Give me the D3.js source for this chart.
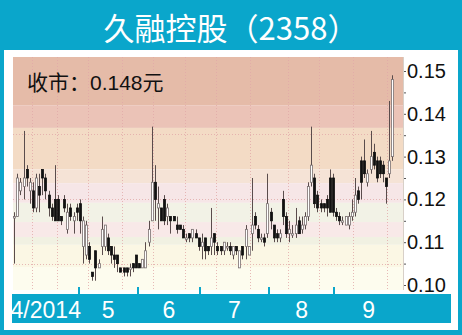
<!DOCTYPE html>
<html>
<head>
<meta charset="utf-8">
<script src="https://cdnjs.cloudflare.com/ajax/libs/d3/7.8.5/d3.min.js"></script>
<style>
  body { margin: 0; background: #0aa6cb; }
  svg { display: block; }
</style>
</head>
<body>
<svg width="462" height="335"></svg>
<script>
// daily candles, Apr - Sep 2014
var monthLabels = ["4/2014", "5", "6", "7", "8", "9"];
var monthCounts = [21, 19, 20, 22, 21, 19];

var opens = [
  .116,.116,.122,.123,.127,.122,.122,.118,.123,.127,.125,.121,.118,.120,.120,.116,.120,.113,.118,.115,.118,
  .119,.109,.107,.109,.103,.108,.104,.109,.109,.111,.109,.107,.107,.104,.104,.104,.104,.105,.107,
  .105,.104,.104,.110,.115,.124,.118,.118,.120,.116,.116,.116,.114,.114,.113,.111,.112,.111,.112,.111,
  .109,.111,.109,.109,.112,.109,.109,.108,.109,.109,.107,.109,.104,.109,.109,.107,.112,.116,.113,.111,.111,.112,
  .117,.114,.112,.111,.120,.116,.112,.112,.112,.115,.113,.114,.116,.124,.125,.121,.119,.119,.120,.125,.125,
  .117,.116,.115,.114,.114,.116,.117,.122,.129,.129,.124,.127,.131,.129,.129,.128,.125,.126,.130
];
var highs = [
  .117,.126,.125,.136,.128,.125,.124,.126,.126,.127,.126,.122,.119,.128,.121,.116,.121,.119,.119,.117,.119,
  .120,.116,.115,.110,.103,.108,.106,.116,.114,.112,.109,.109,.107,.104,.104,.104,.105,.105,.107,
  .105,.106,.110,.115,.137,.128,.123,.118,.121,.119,.116,.116,.116,.114,.114,.112,.112,.113,.113,.111,
  .112,.111,.109,.118,.112,.110,.109,.110,.110,.110,.109,.109,.108,.109,.114,.109,.125,.117,.114,.112,.112,.126,
  .118,.114,.113,.113,.122,.117,.115,.114,.118,.116,.116,.117,.124,.137,.126,.122,.120,.119,.121,.127,.126,
  .118,.117,.116,.116,.117,.120,.125,.123,.130,.134,.127,.136,.133,.130,.130,.129,.125,.143,.149
];
var lows = [
  .105,.116,.121,.120,.123,.119,.117,.117,.117,.121,.120,.116,.115,.115,.115,.114,.117,.112,.115,.112,.115,
  .112,.105,.106,.105,.101,.101,.104,.107,.108,.107,.105,.104,.103,.103,.102,.102,.102,.103,.104,
  .104,.104,.104,.109,.115,.115,.113,.115,.114,.114,.112,.115,.112,.113,.111,.110,.110,.110,.111,.108,
  .106,.106,.107,.107,.107,.107,.107,.107,.108,.107,.106,.107,.104,.106,.106,.107,.108,.113,.110,.110,.109,.111,
  .113,.110,.110,.110,.114,.111,.110,.111,.111,.112,.112,.113,.115,.123,.118,.117,.117,.117,.116,.117,.116,
  .115,.114,.114,.114,.113,.115,.116,.119,.120,.125,.123,.126,.127,.124,.125,.124,.119,.125,.129
];
var closes = [
  .116,.125,.124,.125,.125,.124,.118,.125,.121,.125,.122,.118,.116,.115,.115,.115,.118,.117,.116,.116,.117,
  .115,.115,.114,.106,.102,.104,.105,.113,.114,.108,.107,.106,.105,.103,.103,.103,.104,.104,.104,
  .104,.106,.108,.113,.124,.120,.119,.115,.115,.118,.115,.115,.113,.113,.111,.111,.111,.113,.111,.109,
  .110,.108,.108,.111,.110,.108,.108,.110,.109,.108,.109,.108,.108,.107,.113,.109,.114,.114,.111,.111,.110,.119,
  .115,.111,.111,.112,.116,.112,.113,.112,.114,.112,.114,.116,.123,.128,.119,.118,.118,.118,.118,.117,.117,
  .116,.115,.115,.116,.116,.117,.121,.120,.124,.126,.126,.130,.128,.125,.126,.126,.123,.129,.148
];

var yTicks = [0.10, 0.11, 0.12, 0.13, 0.14, 0.15];
var closeLabel = "收市：0.148元";
var title = "久融控股（2358）";

// background price bands (top edge, bottom edge)
var bandEdges = [0.1533, 0.142, 0.1367, 0.127, 0.1238, 0.1192, 0.1147, 0.1112, 0.1094, 0.1042, 0.0988];
var bandColors = ["#e5bba8", "#ebc3b7", "#f3dbc5", "#f5e3d6", "#f6e6e7", "#f2f2e6", "#f8e9e8", "#f1f1e2", "#fbf7e4", "#fdfcee"];
var gridPrices = [0.1353, 0.1201, 0.1049];
var gridIdx = [6, 14, 24, 35, 45, 55, 65, 76, 88, 98, 109, 120];

window.onload = function(){ drawChart() }
function drawChart() {
    var svg = d3.select("svg");
    var teal = "#0aa6cb";
    var cjk = "'Noto Sans CJK SC', 'Noto Sans', sans-serif";
    var arial = "'Liberation Sans', Arial, 'Noto Sans CJK SC', sans-serif";

    var N = opens.length;
    var left = 13, right = 403, top = 57, bottom = 290, step = 3.12;

    var x = d3.scaleBand().domain(d3.range(N)).range([left, left + N * step]).paddingInner(0.25);
    var y = d3.scaleLinear().domain([0.10, 0.15]).range([285, 71]);

    svg.append("rect").attr("width", 462).attr("height", 335).attr("fill", teal);
    svg.append("rect").attr("x", 4).attr("y", 50).attr("width", 454).attr("height", 280).attr("fill", "#fff");

    svg.append("text")
        .attr("x", 231).attr("y", 40)
        .attr("text-anchor", "middle")
        .attr("fill", "#fff")
        .style("font-family", cjk)
        .style("font-size", "31px")
        .text(title);

    // bands
    var bands = d3.range(bandColors.length).map(function(i) {
        return { y0: bandEdges[i], y1: bandEdges[i + 1], c: bandColors[i] };
    });
    svg.append("g").selectAll("rect")
        .data(bands)
        .enter().append("rect")
        .attr("x", left)
        .attr("width", right - left)
        .attr("y", function(d) { return Math.max(top, y(d.y0)); })
        .attr("height", function(d) { return Math.min(bottom, y(d.y1)) - Math.max(top, y(d.y0)); })
        .attr("fill", function(d) { return d.c; });

    // dotted grid
    var grid = svg.append("g")
        .attr("stroke", "#e2a9a9")
        .attr("stroke-width", 1)
        .attr("stroke-dasharray", "1,2")
        .attr("opacity", 0.8);
    grid.selectAll("line.h")
        .data(gridPrices)
        .enter().append("line")
        .attr("x1", left).attr("x2", right)
        .attr("y1", function(d) { return Math.round(y(d)) + 0.5; })
        .attr("y2", function(d) { return Math.round(y(d)) + 0.5; });
    grid.selectAll("line.v")
        .data(gridIdx)
        .enter().append("line")
        .attr("y1", top).attr("y2", bottom)
        .attr("x1", function(d) { return Math.round(left + d * step) + 0.5; })
        .attr("x2", function(d) { return Math.round(left + d * step) + 0.5; });

    svg.append("text")
        .attr("x", 27).attr("y", 90)
        .attr("fill", "#111")
        .style("font-family", arial)
        .style("font-size", "21px")
        .text(closeLabel);

    // candles
    var data = d3.range(N).map(function(i) {
        return { i: i, o: opens[i], h: highs[i], l: lows[i], c: closes[i] };
    });
    var cx = function(d) { return Math.round(x(d.i) + x.bandwidth() / 2) + 0.5; };

    var candle = svg.append("g").selectAll("g")
        .data(data)
        .enter().append("g");

    candle.append("line")
        .attr("x1", cx).attr("x2", cx)
        .attr("y1", function(d) { return y(d.h); })
        .attr("y2", function(d) { return y(d.l); })
        .attr("stroke", "#5a4c4c")
        .attr("stroke-width", 1);

    candle.append("rect")
        .attr("x", function(d) { return cx(d) - 1; })
        .attr("width", 2)
        .attr("y", function(d) { return y(Math.max(d.o, d.c)); })
        .attr("height", function(d) { return Math.max(1.5, Math.abs(y(d.o) - y(d.c))); })
        .attr("fill", function(d) { return d.c >= d.o ? "#fff" : "#111"; })
        .attr("stroke", function(d) { return d.c >= d.o ? "#7a7070" : "#111"; })
        .attr("stroke-width", 0.8);

    // right axis
    svg.append("line")
        .attr("x1", right + 0.5).attr("x2", right + 0.5)
        .attr("y1", top).attr("y2", bottom)
        .attr("stroke", "#d8d0c8");

    var yAxis = d3.axisRight(y)
        .tickValues(d3.range(0.10, 0.1526, 0.005))
        .tickSize(2)
        .tickFormat(function(d) { return ""; });
    var ax = svg.append("g")
        .attr("transform", "translate(" + (right + 1) + ",0)")
        .call(yAxis);
    ax.select(".domain").remove();
    ax.selectAll("line").attr("stroke", "#555");

    svg.append("g").selectAll("text")
        .data(yTicks)
        .enter().append("text")
        .attr("x", 407)
        .attr("y", function(d) { return y(d) + 7; })
        .attr("fill", "#111")
        .style("font-family", arial)
        .style("font-size", "20px")
        .text(function(d) { return d.toFixed(2); });

    // month band
    svg.append("rect")
        .attr("x", 12).attr("y", 294)
        .attr("width", 439).attr("height", 29)
        .attr("fill", teal);

    var bounds = [0];
    monthCounts.forEach(function(c, i) { bounds.push(bounds[i] + c); });
    var bx = function(k) { return left + k * step; };

    svg.append("g").selectAll("rect")
        .data(bounds.slice(1, bounds.length - 1))
        .enter().append("rect")
        .attr("x", function(d) { return Math.round(bx(d)) - 1; })
        .attr("y", 287)
        .attr("width", 2)
        .attr("height", 7)
        .attr("fill", teal);

    svg.append("g").selectAll("text")
        .data(monthLabels)
        .enter().append("text")
        .attr("x", function(d, i) {
            var a = bx(bounds[i]);
            var b = i == monthLabels.length - 1 ? right : bx(bounds[i + 1]);
            return (a + b) / 2;
        })
        .attr("y", 318)
        .attr("text-anchor", "middle")
        .attr("fill", "#fff")
        .style("font-family", arial)
        .style("font-size", "23px")
        .text(function(d) { return d; });
}
</script>
</body>
</html>
